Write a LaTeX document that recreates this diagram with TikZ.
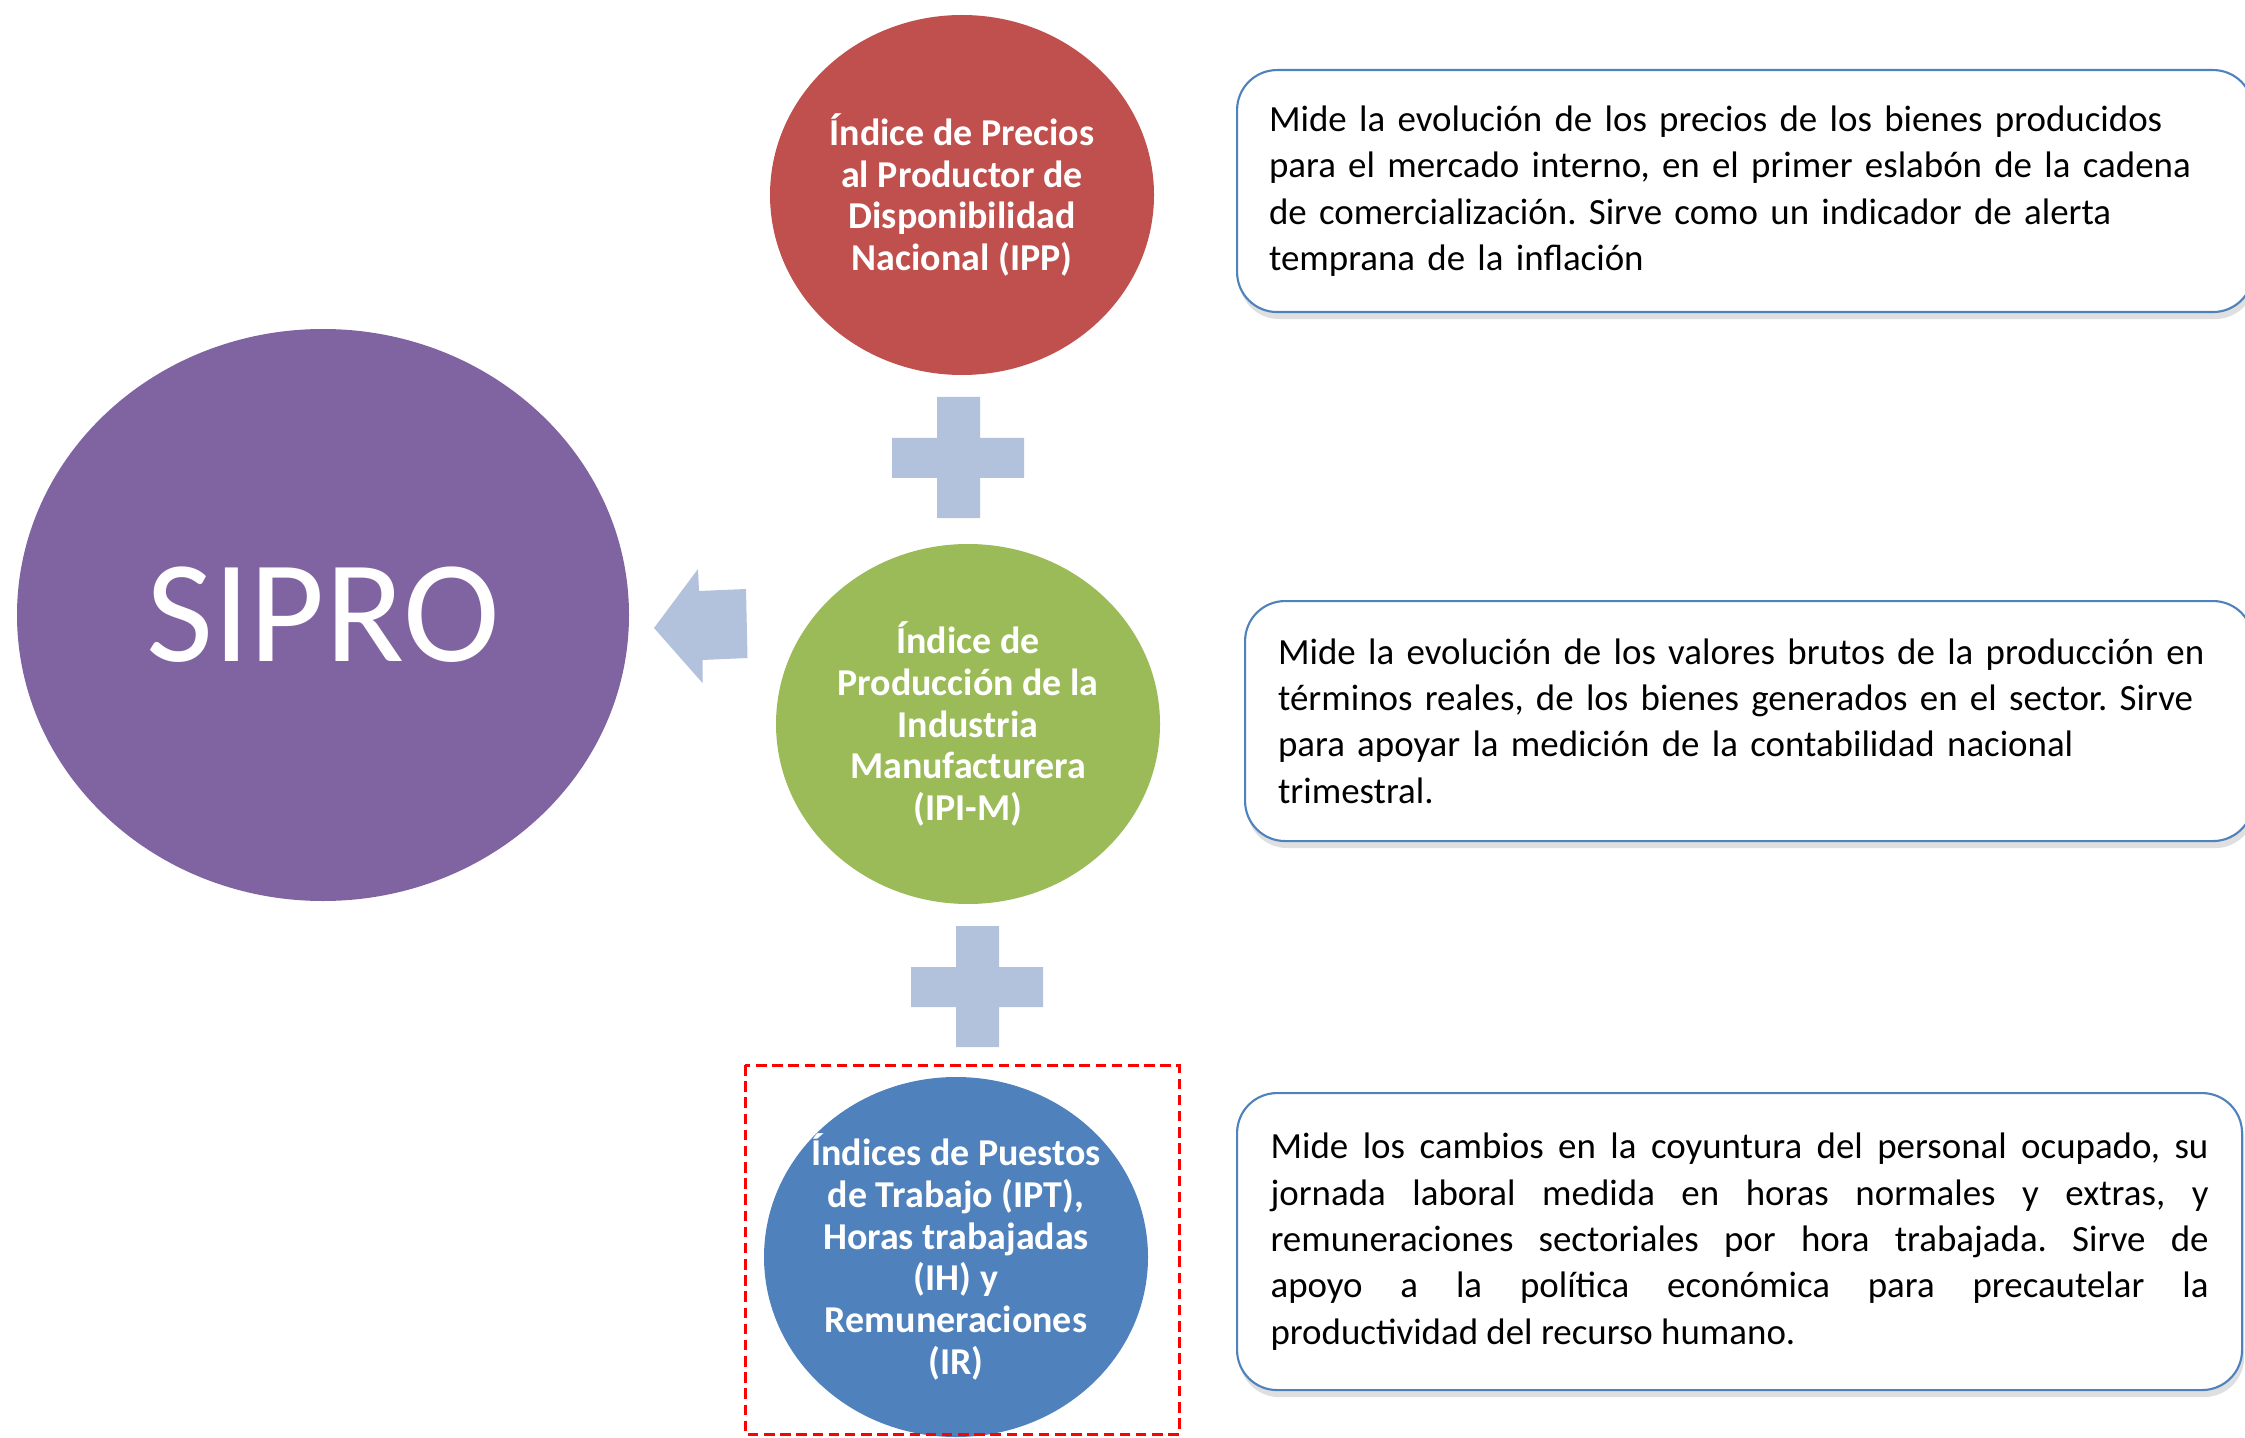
\documentclass[tikz,border=0pt]{standalone}
\usepackage{fontspec}
\setmainfont{Carlito}
\usetikzlibrary{shapes.geometric,shadows}
\definecolor{siprocol}{HTML}{8064A2}
\definecolor{ippcol}{HTML}{C0504D}
\definecolor{ipimcol}{HTML}{9BBB59}
\definecolor{iptcol}{HTML}{4F81BD}
\definecolor{linkblue}{HTML}{B2C1DC}
\definecolor{boxblue}{HTML}{4F81BD}
\tolerance=9999
\frenchspacing
\begin{document}
\begin{tikzpicture}[x=0.1mm, y=-0.1mm,
	circ/.style={ellipse, inner sep=0pt, minimum width=38.4mm, minimum height=36mm},
	circtext/.style={text=white, font=\fontsize{10.8}{11.9}\selectfont\bfseries, align=center, inner sep=0pt},
	desc/.style={rectangle, rounded corners=4mm, draw=boxblue, line width=0.6pt, fill=white, anchor=north west,
		font=\fontsize{10.5}{13.2}\selectfont, drop shadow={shadow xshift=0.6pt, shadow yshift=-2pt, opacity=0.25}},
	plus/.style={fill=linkblue}
	]
	\useasboundingbox (0,0) rectangle (2245,1437);

	\node (sipro) [ellipse, fill=siprocol, minimum width=61.2mm, minimum height=57.2mm, text=white, font=\fontsize{41.5}{41.5}\selectfont] at (323,615) {SIPRO};

	\node (ipp) [circ, fill=ippcol] at (962,195) {};
	\node (ipptxt) [circtext] at (ipp.center) {Índice de Precios\\al Productor de\\Disponibilidad\\Nacional (IPP)};

	\node (ipim) [circ, fill=ipimcol] at (968,724) {};
	\node (ipimtxt) [circtext] at (ipim.center) {Índice de\\Producción de la\\Industria\\Manufacturera\\(IPI-M)};

	\node (ipt) [circ, fill=iptcol] at (956,1257) {};
	\node (ipttxt) [circtext] at (ipt.center) {Índices de Puestos\\de Trabajo (IPT),\\Horas trabajadas\\(IH) y\\Remuneraciones\\(IR)};

	\draw [red, line width=0.85pt, dash pattern=on 3pt off 1.6pt] (745,1065) rectangle (1179,1434);

	\coordinate (plus1) at (958,458);
	\coordinate (plus2) at (977,987);
	\fill [plus, shift={(plus1)}] (-66,-20) rectangle (66,20) (-21,-61) rectangle (22,60);
	\fill [plus, shift={(plus2)}] (-66,-20) rectangle (66,20) (-21,-61) rectangle (22,60);

	\fill [linkblue] (654,628) -- (698,569) -- (699,591) -- (746,589) -- (747.5,658) -- (702.5,660) -- (702.5,683) -- cycle;

	\node (ippdesc) [desc, text width=95.2mm, inner xsep=3.2mm, minimum height=24.2mm, align=left] at (1236,69)
		{Mide la evolución de los precios de los bienes producidos\\para el mercado interno, en el primer eslabón de la cadena\\de comercialización. Sirve como un indicador de alerta\\temprana de la inflación};
	\node (ipimdesc) [desc, text width=94.2mm, inner xsep=3.3mm, minimum height=24mm, align=left] at (1244,600)
		{Mide la evolución de los valores brutos de la producción en\\términos reales, de los bienes generados en el sector. Sirve\\para apoyar la medición de la contabilidad nacional\\trimestral.};
	\node (iptdesc) [desc, text width=93.8mm, inner xsep=3.35mm, minimum height=29.7mm, align=justify] at (1236,1092)
		{Mide los cambios en la coyuntura del personal ocupado, su\linebreak jornada laboral medida en horas normales y extras, y\linebreak remuneraciones sectoriales por hora trabajada. Sirve de\linebreak apoyo a la política económica para precautelar la\linebreak productividad del recurso humano.};
\end{tikzpicture}
\end{document}
